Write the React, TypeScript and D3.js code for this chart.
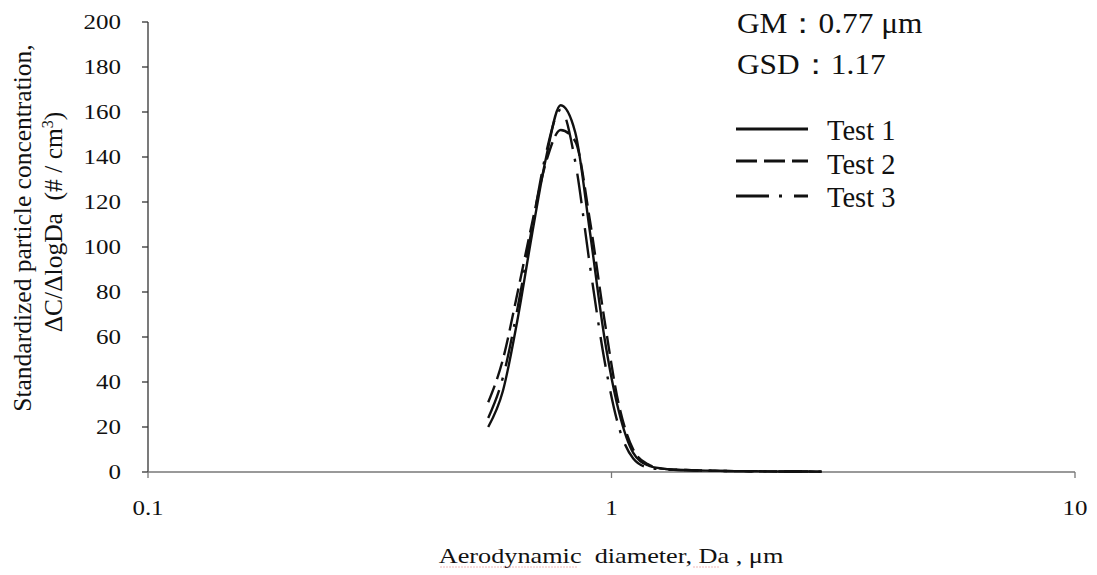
import React from "react";
import * as d3 from "d3";

const diameters = [0.542, 0.583, 0.626, 0.673, 0.723, 0.777, 0.835, 0.898, 0.965, 1.037, 1.114, 1.197, 1.286, 1.382, 1.486, 1.596, 1.715, 1.843, 1.981, 2.129, 2.288, 2.458, 2.642, 2.839];
const test1 = [20, 36, 67, 105, 140, 163, 151, 107, 60, 27, 8.5, 3, 1.5, 1.0, 0.8, 0.6, 0.5, 0.4, 0.35, 0.3, 0.25, 0.2, 0.2, 0.15];
const test2 = [31, 50, 79, 110, 138, 152, 147, 112, 68, 30, 10, 3.5, 1.5, 1.0, 0.8, 0.6, 0.5, 0.4, 0.35, 0.3, 0.25, 0.2, 0.2, 0.15];
const test3 = [24, 42, 72, 108, 142, 161, 138, 92, 50, 20, 6, 2, 1.2, 0.9, 0.7, 0.6, 0.5, 0.4, 0.35, 0.3, 0.25, 0.2, 0.2, 0.15];

const seriesNames = ["Test 1", "Test 2", "Test 3"];
const seriesDash = ["none", "18,7", "30,10,3,12"];
const legendDash = ["none", "21,7", "33,10,3,12"];
const yTicks = [0, 20, 40, 60, 80, 100, 120, 140, 160, 180, 200];
const xTicks = [0.1, 1, 10];
const xTickLabels = ["0.1", "1", "10"];

const W = 1097, H = 575;
const FONT = "'Liberation Serif', 'Times New Roman', serif";

export default function App() {
  const x = d3.scaleLog().domain([0.1, 10]).range([148, 1075]);
  const y = d3.scaleLinear().domain([0, 200]).range([472, 22]);
  const line = d3.line<number>()
    .x((_, i) => x(diameters[i]))
    .y((v) => y(v))
    .curve(d3.curveMonotoneX);
  const all = [test1, test2, test3];
  const legendLineY = [129, 161, 196];
  const legendTextY = [140, 174, 207];

  const stretched = (tx: number, ty: number, content: React.ReactNode, anchor: string, size: number, sx = 1.25) => (
    <g transform={`translate(${tx},${ty}) scale(${sx},1)`}>
      <text x={0} y={0} textAnchor={anchor as any} fontSize={size} fontFamily={FONT} fill="#111">{content}</text>
    </g>
  );

  return (
    <svg width={W} height={H} style={{ position: "absolute", left: 0, top: 0, background: "#fff" }}>
      {/* axes */}
      <line x1={148} x2={148} y1={y(200)} y2={y(0)} stroke="#333" strokeWidth={1.3} />
      {yTicks.map((t) => (
        <g key={t}>
          <line x1={142} x2={148} y1={y(t)} y2={y(t)} stroke="#333" strokeWidth={1.3} />
          {stretched(121, y(t) + 7, String(t), "end", 20)}
        </g>
      ))}
      <line x1={x(0.1)} x2={x(10)} y1={y(0)} y2={y(0)} stroke="#777" strokeWidth={1.3} />
      {xTicks.map((t, i) => (
        <g key={t}>
          <line x1={x(t)} x2={x(t)} y1={y(0)} y2={y(0) + 6} stroke="#777" strokeWidth={1.3} />
          {stretched(x(t), 515, xTickLabels[i], "middle", 20)}
        </g>
      ))}

      {/* curves */}
      {all.map((s, i) => (
        <path key={i} d={line(s) || ""} fill="none" stroke="#111" strokeWidth={2.4} strokeDasharray={seriesDash[i]} />
      ))}

      {/* annotations */}
      {stretched(737, 33, "GM：0.77 μm", "start", 29, 1.08)}
      {stretched(737, 74, "GSD：1.17", "start", 29, 1.08)}

      {/* legend */}
      {seriesNames.map((n, i) => (
        <g key={n}>
          <line x1={736} x2={808} y1={legendLineY[i]} y2={legendLineY[i]} stroke="#111" strokeWidth={3} strokeDasharray={legendDash[i]} />
          {stretched(827, legendTextY[i], n, "start", 28.5, 1)}
        </g>
      ))}

      {/* axis titles */}
      <text transform="translate(31,228) rotate(-90)" textAnchor="middle" fontSize={25.5} fontFamily={FONT} fill="#111">
        Standardized particle concentration,
      </text>
      <text transform="translate(62,222) rotate(-90)" textAnchor="middle" fontSize={25.5} fontFamily={FONT} fill="#111">
        {"ΔC/ΔlogDa\u00a0\u00a0(# / cm"}<tspan dy={-9} fontSize={16}>3</tspan><tspan dy={9}>)</tspan>
      </text>
      {stretched(611, 563, "Aerodynamic\u00a0\u00a0diameter, Da , μm", "middle", 21)}
      <line x1={440} x2={577} y1={567} y2={567} stroke="#e07070" strokeWidth={1} strokeDasharray="2,1" opacity={0.5} />
      <line x1={693} x2={720} y1={567} y2={567} stroke="#e07070" strokeWidth={1} strokeDasharray="2,1" opacity={0.5} />
    </svg>
  );
}
